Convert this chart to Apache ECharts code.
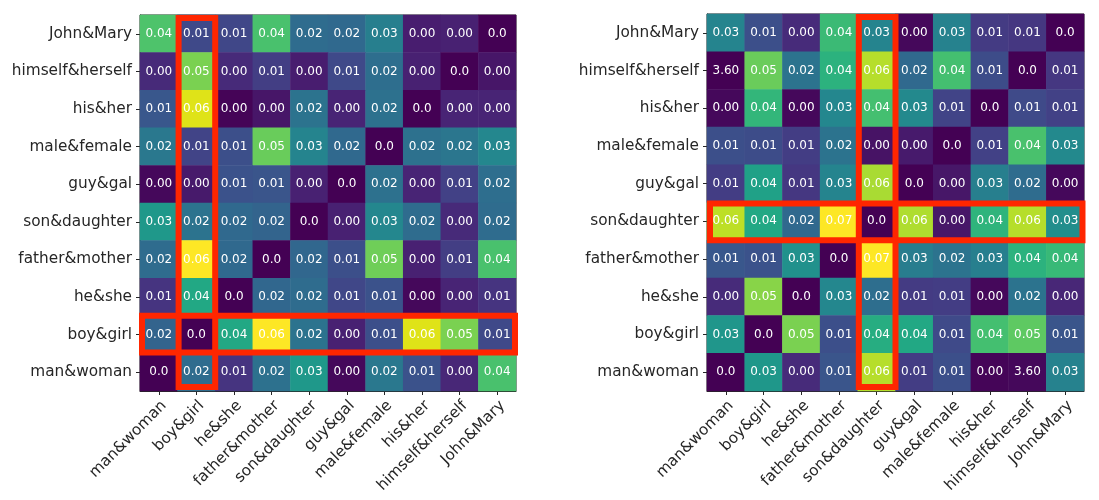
<!DOCTYPE html>
<html>
<head>
<meta charset="utf-8">
<script src="https://cdn.jsdelivr.net/npm/echarts@6/dist/echarts.min.js"></script>
<style>
  html, body { margin: 0; padding: 0; background: #ffffff; }
  #chart { width: 1099px; height: 500px; }
</style>
</head>
<body>
<div id="chart"></div>
<script>
// Categories (x axis left-to-right, y axis bottom-to-top)
const categories = ['man&woman', 'boy&girl', 'he&she', 'father&mother', 'son&daughter',
  'guy&gal', 'male&female', 'his&her', 'himself&herself', 'John&Mary'];

// Left heatmap: colour values, rows listed top-to-bottom (John&Mary ... man&woman)
const leftValues = [
  [0.0446, 0.0136, 0.0130, 0.0440, 0.0217, 0.0211, 0.0267, 0.0050, 0.0056, 0],
  [0.0074, 0.0496, 0.0074, 0.0112, 0.0050, 0.0136, 0.0223, 0.0056, 0, 0.0037],
  [0.0167, 0.0589, 0.0006, 0.0037, 0.0236, 0.0062, 0.0229, 0, 0.0062, 0.0062],
  [0.0248, 0.0124, 0.0149, 0.0477, 0.0279, 0.0211, 0, 0.0229, 0.0242, 0.0285],
  [0.0012, 0.0043, 0.0155, 0.0161, 0.0056, 0, 0.0229, 0.0062, 0.0118, 0.0223],
  [0.0329, 0.0236, 0.0211, 0.0198, 0, 0.0056, 0.0285, 0.0217, 0.0074, 0.0217],
  [0.0217, 0.0620, 0.0211, 0, 0.0205, 0.0149, 0.0484, 0.0056, 0.0112, 0.0440],
  [0.0093, 0.0372, 0, 0.0205, 0.0217, 0.0130, 0.0155, 0.0012, 0.0062, 0.0093],
  [0.0198, 0, 0.0372, 0.0620, 0.0236, 0.0056, 0.0149, 0.0589, 0.0496, 0.0136],
  [0, 0.0217, 0.0093, 0.0229, 0.0329, 0.0012, 0.0248, 0.0155, 0.0068, 0.0440]
];
// Left heatmap: printed cell texts, rows top-to-bottom
const leftLabels = [
  ['0.04', '0.01', '0.01', '0.04', '0.02', '0.02', '0.03', '0.00', '0.00', '0.0'],
  ['0.00', '0.05', '0.00', '0.01', '0.00', '0.01', '0.02', '0.00', '0.0', '0.00'],
  ['0.01', '0.06', '0.00', '0.00', '0.02', '0.00', '0.02', '0.0', '0.00', '0.00'],
  ['0.02', '0.01', '0.01', '0.05', '0.03', '0.02', '0.0', '0.02', '0.02', '0.03'],
  ['0.00', '0.00', '0.01', '0.01', '0.00', '0.0', '0.02', '0.00', '0.01', '0.02'],
  ['0.03', '0.02', '0.02', '0.02', '0.0', '0.00', '0.03', '0.02', '0.00', '0.02'],
  ['0.02', '0.06', '0.02', '0.0', '0.02', '0.01', '0.05', '0.00', '0.01', '0.04'],
  ['0.01', '0.04', '0.0', '0.02', '0.02', '0.01', '0.01', '0.00', '0.00', '0.01'],
  ['0.02', '0.0', '0.04', '0.06', '0.02', '0.00', '0.01', '0.06', '0.05', '0.01'],
  ['0.0', '0.02', '0.01', '0.02', '0.03', '0.00', '0.02', '0.01', '0.00', '0.04']
];

// Right heatmap: colour values, rows top-to-bottom
const rightValues = [
  [0.0306, 0.0163, 0.0082, 0.0462, 0.0306, 0.0014, 0.0299, 0.0116, 0.0109, 0],
  [0.000036, 0.0524, 0.0258, 0.0435, 0.0605, 0.0231, 0.0476, 0.0156, 0, 0.0109],
  [0.0014, 0.0449, 0.0014, 0.0313, 0.0476, 0.0320, 0.0136, 0, 0.0150, 0.0129],
  [0.0163, 0.0156, 0.0122, 0.0258, 0.0034, 0.0048, 0, 0.0129, 0.0483, 0.0320],
  [0.0122, 0.0388, 0.0109, 0.0306, 0.0592, 0, 0.0041, 0.0292, 0.0238, 0.0014],
  [0.0612, 0.0408, 0.0231, 0.0680, 0, 0.0598, 0.0041, 0.0442, 0.0605, 0.0333],
  [0.0184, 0.0170, 0.0340, 0, 0.0680, 0.0286, 0.0258, 0.0292, 0.0435, 0.0456],
  [0.0082, 0.0558, 0, 0.0313, 0.0245, 0.0116, 0.0122, 0.0014, 0.0258, 0.0075],
  [0.0354, 0, 0.0544, 0.0163, 0.0422, 0.0408, 0.0150, 0.0476, 0.0510, 0.0177],
  [0, 0.0360, 0.0082, 0.0177, 0.0605, 0.0122, 0.0163, 0.0007, 0.0014, 0.0299]
];
const rightLabels = [
  ['0.03', '0.01', '0.00', '0.04', '0.03', '0.00', '0.03', '0.01', '0.01', '0.0'],
  ['3.60', '0.05', '0.02', '0.04', '0.06', '0.02', '0.04', '0.01', '0.0', '0.01'],
  ['0.00', '0.04', '0.00', '0.03', '0.04', '0.03', '0.01', '0.0', '0.01', '0.01'],
  ['0.01', '0.01', '0.01', '0.02', '0.00', '0.00', '0.0', '0.01', '0.04', '0.03'],
  ['0.01', '0.04', '0.01', '0.03', '0.06', '0.0', '0.00', '0.03', '0.02', '0.00'],
  ['0.06', '0.04', '0.02', '0.07', '0.0', '0.06', '0.00', '0.04', '0.06', '0.03'],
  ['0.01', '0.01', '0.03', '0.0', '0.07', '0.03', '0.02', '0.03', '0.04', '0.04'],
  ['0.00', '0.05', '0.0', '0.03', '0.02', '0.01', '0.01', '0.00', '0.02', '0.00'],
  ['0.03', '0.0', '0.05', '0.01', '0.04', '0.04', '0.01', '0.04', '0.05', '0.01'],
  ['0.0', '0.03', '0.00', '0.01', '0.06', '0.01', '0.01', '0.00', '3.60', '0.03']
];

// Colour-scale ranges
const leftRange = [0, 0.062];
const rightRange = [0, 0.068];

// Highlighted column / row (red frames)
const leftHighlight = { column: 'boy&girl', row: 'boy&girl' };
const rightHighlight = { column: 'son&daughter', row: 'son&daughter' };

const viridis = ['#440154', '#471365', '#482475', '#463480', '#414487', '#3b528b', '#355f8d',
  '#2f6c8e', '#2a788e', '#25848e', '#21918c', '#1e9c89', '#22a884', '#2fb47c', '#44bf70',
  '#5ec962', '#7ad151', '#9bd93c', '#bddf26', '#dfe318', '#fde725'];

const FONT = 'DejaVu Sans';
const n = categories.length;

function toData(values, labels) {
  const out = [];
  values.forEach((row, r) => {
    row.forEach((v, c) => {
      out.push({ value: [c, n - 1 - r, v], text: labels[r][c] });
    });
  });
  return out;
}

function axisPair(gridIndex) {
  const common = {
    type: 'category',
    data: categories,
    gridIndex: gridIndex,
    axisLine: { show: true, lineStyle: { color: '#262626', width: 1 } },
    axisTick: { show: true, length: 4, alignWithLabel: true, lineStyle: { color: '#262626' } },
    splitLine: { show: false },
    splitArea: { show: false }
  };
  return {
    x: Object.assign({}, common, {
      axisLabel: { rotate: 45, align: 'right', verticalAlign: 'top', fontFamily: FONT, fontSize: 15.3, color: '#262626', margin: 7, interval: 0 }
    }),
    y: Object.assign({}, common, {
      axisLabel: { fontFamily: FONT, fontSize: 15.3, color: '#262626', margin: 8, interval: 0 }
    })
  };
}

const a0 = axisPair(0), a1 = axisPair(1);

function frameSeries(gridIndex, hl, ins) {
  const colIdx = categories.indexOf(hl.column);
  const rowIdx = categories.indexOf(hl.row);
  return {
    type: 'custom',
    xAxisIndex: gridIndex,
    yAxisIndex: gridIndex,
    z: 10,
    clip: false,
    silent: true,
    data: [[0, colIdx], [1, rowIdx]],
    renderItem: function (params, api) {
      const kind = api.value(0);
      const idx = api.value(1);
      const size = api.size([1, 1]);
      const w = size[0], h = size[1];
      let x1, x2, y1, y2, ii;
      if (kind === 0) {
        const top = api.coord([idx, n - 1]);
        const bot = api.coord([idx, 0]);
        ii = ins.col;
        x1 = top[0] - w / 2 + ii[0];
        x2 = top[0] + w / 2 - ii[1];
        y1 = top[1] - h / 2 + ii[2];
        y2 = bot[1] + h / 2 - ii[3];
      } else {
        const left = api.coord([0, idx]);
        const right = api.coord([n - 1, idx]);
        ii = ins.row;
        x1 = left[0] - w / 2 + ii[0];
        x2 = right[0] + w / 2 - ii[1];
        y1 = left[1] - h / 2 + ii[2];
        y2 = left[1] + h / 2 - ii[3];
      }
      return {
        type: 'rect',
        shape: { x: x1, y: y1, width: x2 - x1, height: y2 - y1 },
        style: { fill: 'none', stroke: '#ff2600', lineWidth: 6 }
      };
    }
  };
}

function heatSeries(gridIndex, values, labels) {
  return {
    type: 'heatmap',
    xAxisIndex: gridIndex,
    yAxisIndex: gridIndex,
    data: toData(values, labels),
    label: {
      show: true,
      fontFamily: FONT,
      fontSize: 12,
      color: '#ffffff',
      formatter: function (p) { return p.data.text; }
    },
    itemStyle: { borderWidth: 0 },
    emphasis: { disabled: true }
  };
}

const chart = echarts.init(document.getElementById('chart'), null, { renderer: 'canvas' });
chart.setOption({
  backgroundColor: '#ffffff',
  animation: false,
  tooltip: { show: false },
  grid: [
    { left: 140, top: 15, width: 376, height: 376, show: true, borderColor: '#262626', borderWidth: 1, backgroundColor: 'transparent' },
    { left: 707, top: 14, width: 377, height: 377, show: true, borderColor: '#262626', borderWidth: 1, backgroundColor: 'transparent' }
  ],
  xAxis: [a0.x, a1.x],
  yAxis: [a0.y, a1.y],
  visualMap: [
    { show: false, seriesIndex: 0, min: leftRange[0], max: leftRange[1], dimension: 2, inRange: { color: viridis } },
    { show: false, seriesIndex: 1, min: rightRange[0], max: rightRange[1], dimension: 2, inRange: { color: viridis } }
  ],
  series: [
    heatSeries(0, leftValues, leftLabels),
    heatSeries(1, rightValues, rightLabels),
    frameSeries(0, leftHighlight, { col: [1, 0, 3, 4], row: [2, 1, 0, 1] }),
    frameSeries(1, rightHighlight, { col: [1, 0, 3, 4], row: [3, 1.5, 1, 0] })
  ]
});
</script>
</body>
</html>
